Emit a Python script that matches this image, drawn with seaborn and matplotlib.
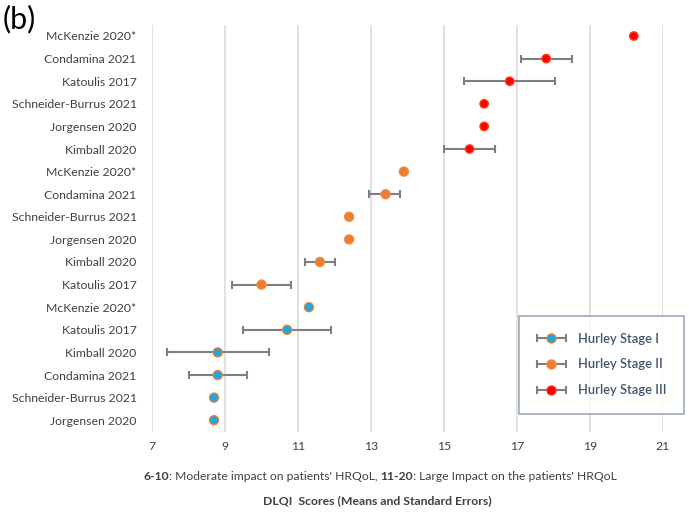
import numpy as np
import pandas as pd
import matplotlib
matplotlib.use("Agg")
import matplotlib.pyplot as plt
from matplotlib.lines import Line2D
from matplotlib.container import ErrorbarContainer
from matplotlib.legend_handler import HandlerErrorbar
import seaborn as sns

nan = np.nan

# studies per Hurley stage, listed top to bottom as in the figure
stage3_studies = ["McKenzie 2020*", "Condamina 2021", "Katoulis 2017",
                  "Schneider-Burrus 2021", "Jorgensen 2020", "Kimball 2020"]
stage3_mean = [20.2, 17.8, 16.8, 16.1, 16.1, 15.7]
stage3_low = [nan, 17.1, 15.55, nan, nan, 15.0]
stage3_high = [nan, 18.5, 18.05, nan, nan, 16.4]

stage2_studies = ["McKenzie 2020*", "Condamina 2021", "Schneider-Burrus 2021",
                  "Jorgensen 2020", "Kimball 2020", "Katoulis 2017"]
stage2_mean = [13.9, 13.4, 12.4, 12.4, 11.6, 10.0]
stage2_low = [nan, 12.95, nan, nan, 11.2, 9.2]
stage2_high = [nan, 13.8, nan, nan, 12.0, 10.8]

stage1_studies = ["McKenzie 2020*", "Katoulis 2017", "Kimball 2020",
                  "Condamina 2021", "Schneider-Burrus 2021", "Jorgensen 2020"]
stage1_mean = [11.3, 10.7, 8.8, 8.8, 8.7, 8.7]
stage1_low = [nan, 9.5, 7.4, 8.0, nan, nan]
stage1_high = [nan, 11.9, 10.2, 9.6, nan, nan]

stages = ["Hurley Stage I", "Hurley Stage II", "Hurley Stage III"]
x_ticks = [7, 9, 11, 13, 15, 17, 19, 21]

frames = []
for name, st, m, lo, hi in [
        ("Hurley Stage III", stage3_studies, stage3_mean, stage3_low, stage3_high),
        ("Hurley Stage II", stage2_studies, stage2_mean, stage2_low, stage2_high),
        ("Hurley Stage I", stage1_studies, stage1_mean, stage1_low, stage1_high)]:
    frames.append(pd.DataFrame({"study": st, "stage": name, "mean": m,
                                "low": lo, "high": hi}))
df = pd.concat(frames, ignore_index=True)
df["pos"] = len(df) - 1 - np.arange(len(df))

fill = {"Hurley Stage I": "#1BA9E3", "Hurley Stage II": "#ED7D31",
        "Hurley Stage III": "#FF0000"}
edge = {"Hurley Stage I": "#ED7D31", "Hurley Stage II": "#F08A45",
        "Hurley Stage III": "#FF3A10"}
size = {"Hurley Stage I": 42, "Hurley Stage II": 42, "Hurley Stage III": 36}
err_col = "#7F7F7F"
txt_col = "#404040"

sns.set_theme(style="white")
plt.rcParams["font.family"] = ["Lato", "DejaVu Sans"]

fig = plt.figure(figsize=(6.89, 5.15), dpi=100)
ax = fig.add_axes([152 / 689, 1 - 431.5 / 515, (663 - 152) / 689, (431.5 - 24.7) / 515])

for x in x_ticks:
    ax.axvline(x, color="#D9D9D9", lw=1.1, zorder=0)

err_handles = {}
for s in stages:
    d = df[(df["stage"] == s) & df["low"].notna()]
    err_handles[s] = ax.errorbar(d["mean"], d["pos"],
                                 xerr=[d["mean"] - d["low"], d["high"] - d["mean"]],
                                 fmt="none", ecolor=err_col, elinewidth=1.5,
                                 capsize=3, capthick=1.5, zorder=2)

sns.scatterplot(data=df, x="mean", y="pos", hue="stage", palette=fill,
                hue_order=stages, size="stage", sizes=size, linewidth=1,
                legend=False, ax=ax, zorder=3)
ax.collections[-1].set_edgecolor([edge[s] for s in df["stage"]])

ax.set_xlim(7, 21)
ax.set_ylim(-0.5, len(df) - 0.5)
ax.set_xticks(x_ticks)
ax.set_xticklabels([str(v) for v in x_ticks])
ax.set_yticks(df["pos"])
ax.set_yticklabels(df["study"])
ax.set_xlabel("")
ax.set_ylabel("")
for sp in ax.spines.values():
    sp.set_visible(False)
ax.tick_params(axis="y", length=0, pad=11, labelsize=8.8, labelcolor=txt_col)
ax.tick_params(axis="x", length=0, pad=7, labelsize=8.8, labelcolor=txt_col)

# legend: error bar + marker overlaid
handles = []
for s in stages:
    mk = Line2D([], [], ls="none", marker="o", markersize=6.5, markerfacecolor=fill[s],
                markeredgecolor=edge[s], markeredgewidth=1)
    handles.append((err_handles[s], mk))
leg = fig.legend(handles, stages, loc="center",
                 bbox_to_anchor=(517 / 689, 1 - 414 / 515, 169 / 689, 99 / 515),
                 handler_map={ErrorbarContainer: HandlerErrorbar(xerr_size=1.1)},
                 frameon=True, fancybox=False, fontsize=9.3, labelspacing=1.05,
                 handlelength=2.3, handletextpad=0.9, borderpad=1.35,
                 labelcolor="#44546A")
leg.get_frame().set_edgecolor("#8393AA")
leg.get_frame().set_linewidth(1.2)
for t in leg.get_texts():
    t.set_fontweight("semibold")

fig.text(3 / 689, 1 - 19 / 515, "(b)", fontsize=22, va="center", ha="left", color="#000000")

# caption line with bold ranges, laid out piece by piece
pieces = [("6-10", "bold"), (": Moderate impact on patients' HRQoL, ", "normal"),
          ("11-20", "bold"), (": Large Impact on the patients' HRQoL", "normal")]
renderer = fig.canvas.get_renderer()
x0 = 143 / 689
ypos = 1 - 477 / 515
for txt, w in pieces:
    t = fig.text(x0, ypos, txt, fontsize=8.7, fontweight=w, color=txt_col,
                 va="center", ha="left")
    x0 += t.get_window_extent(renderer=renderer).width / fig.bbox.width

fig.text(377 / 689, 1 - 501 / 515, "DLQI  Scores (Means and Standard Errors)", fontsize=8.8,
         fontweight="bold", color=txt_col, ha="center", va="center")

fig.savefig("out.png", dpi=100)
